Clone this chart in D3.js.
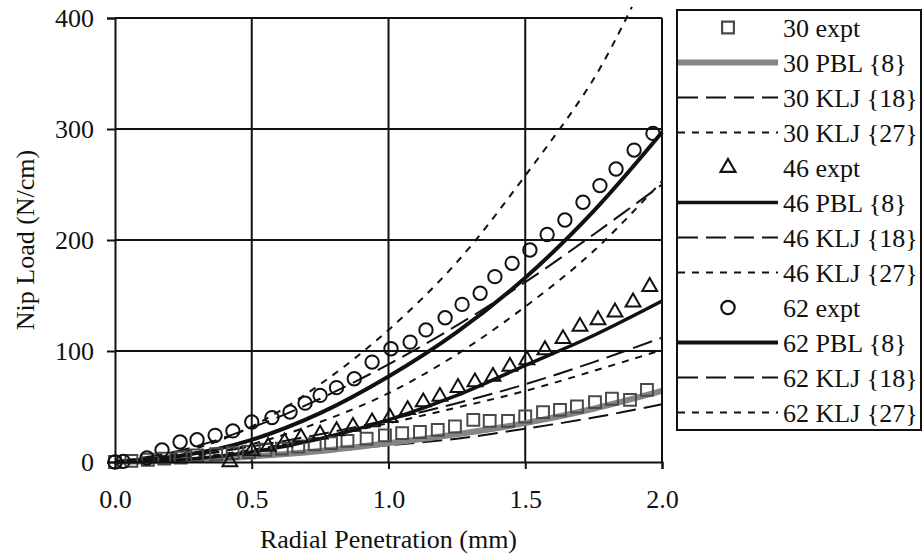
<!DOCTYPE html>
<html>
<head>
<meta charset="utf-8">
<script src="https://cdn.jsdelivr.net/npm/d3@7"></script>
<style>
  body { margin: 0; background: #fff; }
  svg text { font-family: "Liberation Serif", "DejaVu Serif", serif !important; fill: #111; }
</style>
</head>
<body>
<script>
var xExpt30 = [0, 0.06, 0.12, 0.18, 0.24, 0.3, 0.37, 0.43, 0.49, 0.55, 0.61, 0.67, 0.73, 0.79, 0.85, 0.92, 0.987, 1.05, 1.115, 1.18, 1.243, 1.31, 1.37, 1.437, 1.5, 1.565, 1.627, 1.689, 1.755, 1.817, 1.883, 1.945];
var yExpt30 = [0, 1, 2, 3, 4, 6, 7, 8, 9, 11, 12, 14, 16, 17, 19, 21, 24, 26, 27, 29, 32, 38, 37, 37, 41, 45, 47, 50, 54, 57, 56, 65];

var xExpt46 = [0.42, 0.5, 0.56, 0.62, 0.68, 0.75, 0.81, 0.87, 0.94, 1.005, 1.07, 1.127, 1.188, 1.254, 1.316, 1.382, 1.444, 1.506, 1.572, 1.638, 1.7, 1.766, 1.828, 1.894, 1.955];
var yExpt46 = [0, 10, 14, 18, 22, 25, 28, 32, 36, 40, 47, 54, 59, 67, 72, 77, 86, 92, 101, 111, 122, 128, 135, 144, 158];

var xExpt62 = [0, 0.03, 0.117, 0.172, 0.238, 0.3, 0.366, 0.431, 0.5, 0.574, 0.64, 0.695, 0.75, 0.81, 0.875, 0.94, 1.009, 1.079, 1.137, 1.207, 1.269, 1.335, 1.389, 1.452, 1.517, 1.58, 1.645, 1.711, 1.773, 1.832, 1.898, 1.967];
var yExpt62 = [0, 0.5, 3.6, 10.8, 18, 20, 24, 28, 36, 40, 45, 53, 60, 67, 75, 90, 102, 108, 119, 130, 142, 152, 167, 179, 191, 205, 218, 234, 249, 264, 281, 296];

// model curves
var xModel = [0, 0.25, 0.5, 0.75, 1.0, 1.25, 1.5, 1.75, 2.0];
var pbl30 = [0, 1.5, 5, 10, 17, 25, 35, 48, 64];
var pbl46 = [0, 2, 9, 21, 38, 60, 87, 114, 145];
var pbl62 = [0, 6, 20, 44, 77, 117, 166, 226, 297];
var klj18_30 = [0, 2, 6, 10, 15, 21, 30, 40, 52];
var klj18_46 = [0, 5, 14, 25, 38, 53, 70, 90, 112];
var klj18_62 = [0, 11, 31, 57, 88, 123, 162, 205, 250];
var klj27_30 = [0, 3, 11, 22, 35, 49, 64, 82, 101];
var klj27_46 = [0, 4, 16, 36, 62, 97, 140, 190, 253];
var xKlj27_62 = [0, 0.25, 0.5, 0.75, 1.0, 1.25, 1.5, 1.75, 1.89];
var klj27_62 = [0, 9, 32, 70, 119, 180, 258, 345, 410];

var xTicks = [0, 0.5, 1.0, 1.5, 2.0];
var yTicks = [0, 100, 200, 300, 400];

var legendLabels = ["30 expt", "30 PBL {8}", "30 KLJ {18}", "30 KLJ {27}",
                    "46 expt", "46 PBL {8}", "46 KLJ {18}", "46 KLJ {27}",
                    "62 expt", "62 PBL {8}", "62 KLJ {18}", "62 KLJ {27}"];

var w = 922, h = 555;
var serif = "'Liberation Serif', 'DejaVu Serif', serif";

var svg = d3.select("body")
    .append("svg")
    .attr("width", w)
    .attr("height", h)
    .attr("font-family", serif);

var x = d3.scaleLinear().domain([0, 2]).range([115, 662]);
var y = d3.scaleLinear().domain([0, 400]).range([462, 18]);

// grid
svg.append("g").selectAll("line")
    .data(xTicks.slice(1))
    .enter().append("line")
    .attr("x1", function(d) { return x(d); })
    .attr("x2", function(d) { return x(d); })
    .attr("y1", y(0)).attr("y2", y(400))
    .style("stroke", "#111").style("stroke-width", 2);

svg.append("g").selectAll("line")
    .data(yTicks.slice(1))
    .enter().append("line")
    .attr("x1", x(0)).attr("x2", x(2))
    .attr("y1", function(d) { return y(d); })
    .attr("y2", function(d) { return y(d); })
    .style("stroke", "#111").style("stroke-width", 2);

// styles for every series
var styles = {
    pbl30: { color: "#858585", width: 6, dash: null },
    pbl46: { color: "#111", width: 3.5, dash: null },
    pbl62: { color: "#111", width: 4, dash: null },
    klj18: { color: "#111", width: 2, dash: "20,8" },
    klj27: { color: "#111", width: 2, dash: "7,7" }
};

var line = d3.line()
    .x(function(d) { return x(d[0]); })
    .y(function(d) { return y(d[1]); })
    .curve(d3.curveCatmullRom);

function pairs(xs, ys) {
    return xs.map(function(v, i) { return [v, ys[i]]; });
}

function drawCurve(xs, ys, st) {
    svg.append("path")
        .datum(pairs(xs, ys))
        .attr("d", line)
        .style("fill", "none")
        .style("stroke", st.color)
        .style("stroke-width", st.width)
        .style("stroke-dasharray", st.dash);
}

drawCurve(xModel, klj18_30, styles.klj18);
drawCurve(xModel, klj27_30, styles.klj27);
drawCurve(xModel, klj18_46, styles.klj18);
drawCurve(xModel, klj27_46, styles.klj27);
drawCurve(xModel, klj18_62, styles.klj18);
drawCurve(xKlj27_62, klj27_62, styles.klj27);
drawCurve(xModel, pbl30, styles.pbl30);
drawCurve(xModel, pbl46, styles.pbl46);
drawCurve(xModel, pbl62, styles.pbl62);

var sym = {
    square: d3.symbol().type(d3.symbolSquare).size(140),
    triangle: d3.symbol().type(d3.symbolTriangle).size(95),
    circle: d3.symbol().type(d3.symbolCircle).size(140)
};

function drawPoints(xs, ys, shape, color) {
    svg.append("g").selectAll("path")
        .data(pairs(xs, ys))
        .enter().append("path")
        .attr("d", sym[shape])
        .attr("transform", function(d) { return "translate(" + x(d[0]) + "," + y(d[1]) + ")"; })
        .style("fill", "none")
        .style("stroke", color)
        .style("stroke-width", 2);
}

drawPoints(xExpt30, yExpt30, "square", "#4a4a4a");
drawPoints(xExpt46, yExpt46, "triangle", "#111");
drawPoints(xExpt62, yExpt62, "circle", "#111");

// axes
var yAxis = d3.axisLeft(y).tickValues(yTicks).tickSize(8).tickPadding(13).tickFormat(d3.format("d"));
var xAxis = d3.axisBottom(x).tickValues(xTicks).tickSize(7).tickPadding(21).tickFormat(d3.format(".1f"));

svg.append("g")
    .attr("transform", "translate(" + x(0) + ",0)")
    .call(yAxis)
    .attr("font-family", serif);
svg.append("g")
    .attr("transform", "translate(0," + y(0) + ")")
    .call(xAxis)
    .attr("font-family", serif);

svg.selectAll(".domain").style("stroke", "#111").style("stroke-width", 2);
svg.selectAll(".tick line").style("stroke", "#111").style("stroke-width", 2);
svg.selectAll(".tick text")
    .style("font-size", "26px")
    .style("fill", "#111");

// frame top/right
svg.append("line").attr("x1", x(0)).attr("x2", x(2)).attr("y1", y(400)).attr("y2", y(400))
    .style("stroke", "#111").style("stroke-width", 2);
svg.append("line").attr("x1", x(2)).attr("x2", x(2)).attr("y1", y(0)).attr("y2", y(400))
    .style("stroke", "#111").style("stroke-width", 2);

// titles
svg.append("text")
    .attr("x", (x(0) + x(2)) / 2)
    .attr("y", 548)
    .attr("text-anchor", "middle")
    .style("font-size", "26px")
    .text("Radial Penetration (mm)");

svg.append("text")
    .attr("transform", "translate(34," + (y(0) + y(400)) / 2 + ") rotate(-90)")
    .attr("text-anchor", "middle")
    .style("font-size", "26px")
    .text("Nip Load (N/cm)");

// legend
var lgX = 677, lgY = 10, lgW = 244, lgH = 420, rowH = lgH / legendLabels.length;

svg.append("rect")
    .attr("x", lgX).attr("y", lgY)
    .attr("width", lgW).attr("height", lgH)
    .style("fill", "#fff")
    .style("stroke", "#111")
    .style("stroke-width", 2);

var legendKinds = [
    { pt: "square", c: "#4a4a4a" }, styles.pbl30, styles.klj18, styles.klj27,
    { pt: "triangle", c: "#111" }, styles.pbl46, styles.klj18, styles.klj27,
    { pt: "circle", c: "#111" }, styles.pbl62, styles.klj18, styles.klj27
];

var rows = svg.append("g").selectAll("g")
    .data(legendLabels)
    .enter().append("g")
    .attr("transform", function(d, i) { return "translate(0," + (lgY + rowH * (i + 0.5)) + ")"; });

rows.each(function(d, i) {
    var g = d3.select(this);
    var k = legendKinds[i];
    if (k.pt) {
        g.append("path")
            .attr("d", sym[k.pt])
            .attr("transform", "translate(728,0)")
            .style("fill", "none")
            .style("stroke", k.c)
            .style("stroke-width", 2.2);
    } else {
        g.append("line")
            .attr("x1", lgX + 1).attr("x2", 778)
            .attr("y1", 0).attr("y2", 0)
            .style("stroke", k.color)
            .style("stroke-width", k.width)
            .style("stroke-dasharray", k.dash);
    }
    g.append("text")
        .attr("x", 783)
        .attr("dy", "0.35em")
        .style("font-size", "26px")
        .text(d);
});
</script>
</body>
</html>
